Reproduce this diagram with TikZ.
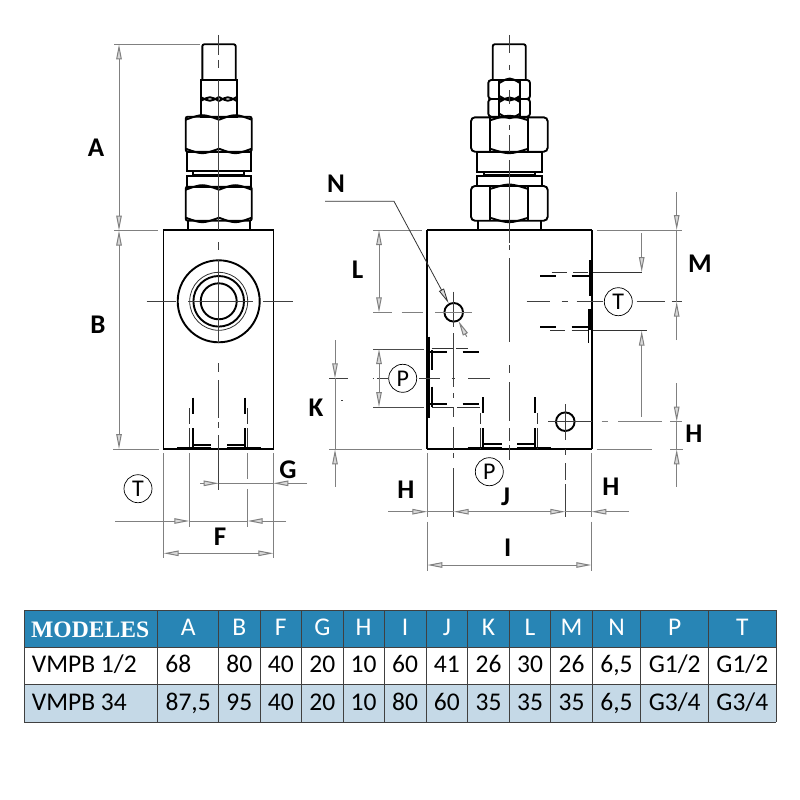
\documentclass[tikz,border=0pt]{standalone}
\usepackage{fontspec}
\setmainfont{Carlito}
\newfontfamily\headserif{Liberation Serif}
\usetikzlibrary{arrows.meta}
\definecolor{headblue}{HTML}{2885B5}
\definecolor{rowblue}{HTML}{C5D9E7}
\definecolor{dimgray}{HTML}{808080}

% two chamfer arcs of one nut face: left x, right x, top y, bottom y
\newcommand{\nutface}[4]{
    \draw[part] (#1,#3+3) .. controls ({(#1+#2)/2},#3-3) .. (#2,#3+3);
    \draw[part] (#1,#4-3) .. controls ({(#1+#2)/2},#4+3) .. (#2,#4-3);
}

\begin{document}
\begin{tikzpicture}[x=1pt, y=-1pt, >={Triangle[length=15pt,width=5.5pt,fill=gray!30]},
    every node/.style={inner sep=0pt},
    part/.style={draw=black, line width=1.9pt},
    heavy/.style={draw=black, line width=2.8pt},
    hidden/.style={draw=black!80, line width=.8pt},
    axisline/.style={draw=black!75, line width=.8pt},
    dimline/.style={draw=dimgray, line width=1pt},
    extline/.style={draw=dimgray, line width=.8pt},
    letter/.style={font=\fontsize{27}{27}\bfseries\selectfont},
    portmark/.style={circle, draw=black, line width=.7pt, minimum size=28pt, font=\fontsize{24}{24}\selectfont},
    grid line/.style={draw=black!75, line width=1pt},
    cell/.style={anchor=base, font=\fontsize{25.5}{25.5}\selectfont}]

    \useasboundingbox (0,0) rectangle (800,800);

    % Left view: adjuster
    \draw[part, rounded corners=2pt] (202.3,80) -- (202.3,44.3) -- (235.7,44.3) -- (235.7,80);
    \draw[part] (200.7,80) rectangle (236.7,116.7);
    \foreach \xa/\xb in {200.7/219,219/236.7} {
        \draw[part] (\xa,97) .. controls ({(\xa+\xb)/2},102) .. (\xb,97);
        \draw[part] (\xa,101) .. controls ({(\xa+\xb)/2},96) .. (\xb,101);
    }
    \draw[part, rounded corners=2pt] (185.7,116.7) rectangle (251.7,151.7);
    \nutface{185.7}{219}{116.7}{151.7}
    \nutface{219}{251.7}{116.7}{151.7}
    \draw[part] (186.7,151.7) rectangle (251,170.7);
    \draw[part] (193,170.7) rectangle (244,175);
    \draw[part] (186.7,175.7) rectangle (251,186.7);
    \draw[part, rounded corners=2pt] (185.7,186.7) rectangle (251.7,220.7);
    \nutface{185.7}{219}{186.7}{220.7}
    \nutface{219}{251.7}{186.7}{220.7}
    \draw[part] (187.7,220.7) -- (187.7,230.3);
    \draw[part] (250.3,220.7) -- (250.3,230.3);

    % Left view: body and port
    \draw[part] (163.5,230.3) rectangle (273.5,449);
    \draw[part] (218.7,301.3) circle[radius=41pt];
    \draw[hidden] (218.7,301.3) circle[radius=29pt];
    \draw[part] (218.7,301.3) circle[radius=25.3pt];
    \draw[part] (218.7,301.3) circle[radius=18pt];
    \foreach \ya/\yb in {35/55,60/68,80/230,242/250,260/343,363/372,380/418,422/428,435/490}
        \draw[axisline] (218.7,\ya) -- (218.7,\yb);
    \foreach \xa/\xb in {146.7/176,188/253,263/293}
        \draw[axisline] (\xa,301.3) -- (\xb,301.3);
    \foreach \xa/\xb/\xc/\xd in {192.7/189.3/177/210.7, 245/247.3/260.7/226.7} {
        \draw[part] (\xa,397.7) -- (\xa,414);
        \draw[part] (\xa,428) -- (\xa,447);
        \draw[hidden] (\xb,408) -- (\xb,424);
        \draw[hidden] (\xb,428) -- (\xb,449);
        \draw[part] (\xa,445) -- (\xd,445);
        \draw[part] (\xc,448) -- (\xd,448);
    }

    % Left view: dimensions
    \draw[extline] (114,44.3) -- (200,44.3);
    \draw[extline] (114,230.5) -- (158,230.5);
    \draw[extline] (113,449) -- (159,449);
    \draw[dimline, <->] (119,44.3) -- (119,230.5);
    \draw[dimline, <->] (119,230.5) -- (119,449);
    \draw[extline] (163.7,453) -- (163.7,558);
    \draw[extline] (273.3,453) -- (273.3,558);
    \draw[extline] (189.3,453) -- (189.3,526.7);
    \draw[extline] (247.7,453) -- (247.7,479);
    \draw[extline] (247.7,489) -- (247.7,526.7);
    \draw[dimline, ->] (200,483.3) -- (218.7,483.3);
    \draw[dimline, ->] (307,483.3) -- (273.3,483.3);
    \draw[dimline] (218.7,483.3) -- (273.3,483.3);
    \draw[dimline, ->] (115,521) -- (189.3,521);
    \draw[dimline, ->] (286,521) -- (247.7,521);
    \draw[dimline] (189.3,521) -- (247.7,521);
    \draw[dimline, <->] (163.7,553.3) -- (273.3,553.3);

    % Left view: labels
    \node[letter] (lblA) at (96,148) {A};
    \node[letter] (lblB) at (98,325) {B};
    \node[letter] (lblF) at (220,537) {F};
    \node[letter] (lblG) at (288,470) {G};
    \node[portmark] (portTa) at (138,488.7) {T};

    % Right view: adjuster
    \draw[part, rounded corners=2pt] (492.7,80) -- (492.7,44.3) -- (525.7,44.3) -- (525.7,80);
    \draw[part, rounded corners=3pt] (488.3,80) rectangle (530,99);
    \draw[part, rounded corners=3pt] (488.3,99) rectangle (530,116.7);
    \draw[part] (499.3,80) -- (499.3,116.7);
    \draw[part] (520,80) -- (520,116.7);
    \nutface{499.3}{520}{80}{99}
    \nutface{499.3}{520}{99}{116.7}
    \draw[part, rounded corners=4pt] (471,117.3) rectangle (547.7,151.7);
    \draw[part] (490,117.3) -- (490,151.7);
    \draw[part] (528.3,117.3) -- (528.3,151.7);
    \nutface{490}{528.3}{117.3}{151.7}
    \draw[part] (477.3,151.7) rectangle (541.7,171.7);
    \draw[part] (484.3,171.7) rectangle (535,175);
    \draw[part] (477.3,176) rectangle (541.7,186);
    \draw[part, rounded corners=4pt] (471,186) rectangle (547.7,220.7);
    \draw[part] (490,186) -- (490,220.7);
    \draw[part] (528.3,186) -- (528.3,220.7);
    \nutface{490}{528.3}{186}{220.7}
    \draw[part] (478.3,220.7) -- (478.3,230);
    \draw[part] (540.7,220.7) -- (540.7,230);

    % Right view: body
    \draw[part] (427,230) -- (592,230);
    \draw[part] (427,449.3) -- (592,449.3);
    \draw[part] (427,230) -- (427,449.3);
    \draw[heavy] (592,230) -- (592,449.3);
    \foreach \ya/\yb in {35/53,65/70,90/104,125/130,135/152,160/243,245/250,258/342,365/373,382/421,428/441,445/460}
        \draw[axisline] (509,\ya) -- (509,\yb);

    % Right view: T port
    \draw[heavy, line width=3pt] (590,260) -- (590,296);
    \draw[heavy, line width=4pt] (589.5,309) -- (589.5,330);
    \draw[part] (588.5,330) -- (588.5,343);
    \foreach \xa/\xb in {540/555.7,571.7/588.7} {
        \draw[part] (\xa,275.7) -- (\xb,275.7);
        \draw[part] (\xa,327.3) -- (\xb,327.3);
    }
    \foreach \xa/\xb in {551.7/567,573/588,593.3/641.7} \draw[hidden] (\xa,272) -- (\xb,272);
    \foreach \xa/\xb in {550/565,571.7/588,593.3/646.7} \draw[hidden] (\xa,330.7) -- (\xb,330.7);
    \foreach \xa/\xb in {526.7/550,561.7/568,576.7/603,636.7/665,671.7/681.7}
        \draw[axisline] (\xa,301.7) -- (\xb,301.7);
    \node[portmark] (portTb) at (618.3,301.7) {T};

    % Right view: P port on the side
    \draw[heavy] (428.5,336.7) -- (428.5,418);
    \foreach \ya/\yb/\yc in {350/370/352, 386.7/406.7/404} {
        \draw[part] (432,\ya) -- (432,\yb);
        \draw[part] (430,\yc) -- (446.7,\yc);
        \draw[part] (462.7,\yc) -- (478.7,\yc);
    }
    \draw[hidden] (431.7,348.7) -- (453.7,348.7);
    \draw[hidden] (456,348.7) -- (468,348.7);
    \draw[hidden] (431.7,407) -- (453.7,407);
    \draw[hidden] (457,407) -- (480,407);
    \draw[extline, draw=black!70] (373,349) -- (424,349);
    \draw[extline, draw=black!70] (373,407) -- (424,407);
    \foreach \xa/\xb in {329/348,372.5/373.5,377/388,419/440,451.7/455,468/490}
        \draw[axisline] (\xa,378.3) -- (\xb,378.3);
    \node[portmark] (portPa) at (402.7,378.3) {P};

    % Right view: P port on the bottom
    \foreach \xa/\xb/\xc/\xd in {483.3/480.3/467.7/501.7, 535.3/537.3/550.7/516.7} {
        \draw[part] (\xa,397.3) -- (\xa,413);
        \draw[part] (\xa,428) -- (\xa,447);
        \draw[hidden] (\xb,413) -- (\xb,424);
        \draw[hidden] (\xb,428) -- (\xb,449);
        \draw[part] (\xa,444.3) -- (\xd,444.3);
        \draw[part] (\xc,447.5) -- (\xd,447.5);
    }
    \node[portmark] (portPb) at (489.3,471.7) {P};

    % Right view: holes
    \draw[part] (453.7,312.3) circle[radius=9.3pt];
    \draw[part] (565.3,421.7) circle[radius=9.3pt];
    \foreach \ya/\yb in {291.7/327,333/348,348/387,393/398,407/417,427/449,453/458,468/517}
        \draw[axisline] (453.7,\ya) -- (453.7,\yb);
    \foreach \ya/\yb in {404/440,449/455,463/480,484/517}
        \draw[axisline] (565.3,\ya) -- (565.3,\yb);
    \foreach \xa/\xb in {373/392,401.7/423,435/471.7}
        \draw[extline] (\xa,312.3) -- (\xb,312.3);
    \draw[axisline] (548.3,421.7) -- (591.7,421.7);

    % Right view: dimensions
    \draw[extline] (373.3,230) -- (421.7,230);
    \draw[dimline, <->] (379,230) -- (379,312.3);
    \draw[dimline, <->] (379,349) -- (379,407);
    \draw[dimline, ->] (335,340) -- (335,378.3);
    \draw[dimline, ->] (335,486.7) -- (335,449.3);
    \draw[dimline] (335,378.3) -- (335,449.3);
    \draw[axisline] (341,400) -- (343,400);
    \draw[extline] (329,449.3) -- (421.7,449.3);
    \draw[extline] (596.7,230) -- (681.7,230);
    \draw[dimline, ->] (676.7,192) -- (676.7,230);
    \draw[dimline, ->] (676.7,340) -- (676.7,301.7);
    \draw[dimline] (676.7,230) -- (676.7,301.7);
    \draw[dimline, ->] (641.7,233) -- (641.7,272);
    \draw[dimline, ->] (641.7,416.7) -- (641.7,330.7);
    \draw[dimline, ->] (676.7,383) -- (676.7,421.7);
    \draw[dimline, ->] (676.7,486.7) -- (676.7,449.3);
    \draw[dimline] (676.7,421.7) -- (676.7,449.3);
    \foreach \xa/\xb in {601.7/608,618.3/661.7,670/681.7}
        \draw[extline] (\xa,421.7) -- (\xb,421.7);
    \foreach \xa/\xb in {596.7/651.7,670/682.7}
        \draw[extline] (\xa,449.3) -- (\xb,449.3);
    \foreach \ya/\yb in {453/517,521.7/570.7} {
        \draw[extline] (427.3,\ya) -- (427.3,\yb);
        \draw[extline] (591.3,\ya) -- (591.3,\yb);
    }
    \draw[dimline, ->] (388,511.7) -- (427.3,511.7);
    \draw[dimline, ->] (629,511.7) -- (591.3,511.7);
    \draw[dimline] (427.3,511.7) -- (453.7,511.7);
    \draw[dimline, <->] (453.7,511.7) -- (565.3,511.7);
    \draw[dimline] (565.3,511.7) -- (591.3,511.7);
    \draw[dimline, <->] (427.3,565) -- (591.3,565);

    % Leader to the small hole
    \coordinate (leadA) at (325,201.3);
    \coordinate (leadB) at (394,201.3);
    \coordinate (leadC) at (448.5,303);
    \coordinate (leadD) at (466.7,336.7);
    \coordinate (leadE) at (458.5,321);
    \draw[axisline, draw=black!80, ->] (leadA) -- (leadB) -- (leadC);
    \draw[dimline, ->] (leadD) -- (leadE);

    % Right view: labels
    \node[letter] (lblN) at (336,184) {N};
    \node[letter] (lblL) at (357.7,270) {L};
    \node[letter] (lblM) at (700,264) {M};
    \node[letter] (lblK) at (316,408) {K};
    \node[letter] (lblHa) at (406,490) {H};
    \node[letter] (lblJ) at (505.7,496.7) {J};
    \node[letter] (lblHb) at (611,486.7) {H};
    \node[letter] (lblI) at (507.7,548) {I};
    \node[letter] (lblHc) at (694,433.3) {H};

    % Table
    \fill[headblue] (24,610.3) rectangle (776,647.3);
    \fill[rowblue] (24,684.7) rectangle (776,722.3);
    \foreach \yl in {610.3,647.3,684.7,722.3}
        \draw[grid line] (24,\yl) -- (776,\yl);
    \foreach \xl in {24,157.7,218.7,260,301.7,343,384.3,426,467.7,509.3,550.7,592.3,640.7,708.7,776}
        \draw[grid line] (\xl,610.3) -- (\xl,722.3);

    \node[anchor=base, text=white, font=\headserif\fontsize{23.6}{23.6}\bfseries\selectfont] (tModeles) at (90.2,637.3) {MODELES};
    \node[cell, anchor=base west] (tFirst) at (31.7,672.7) {VMPB 1/2};
    \node[cell, anchor=base west] (tSecond) at (31.7,710) {VMPB 34};
    \node[cell, text=white] (hA) at (188.2,635) {A};
    \node[cell] (aA) at (178.3,672.7) {68};
    \node[cell] (bA) at (188.2,710) {87,5};
    \foreach \xa/\xb/\head/\va/\vb in {218.7/260/B/80/95, 260/301.7/F/40/40, 301.7/343/G/20/20,
        343/384.3/H/10/10, 384.3/426/I/60/80, 426/467.7/J/41/60, 467.7/509.3/K/26/35,
        509.3/550.7/L/30/35, 550.7/592.3/M/26/35, 592.3/640.7/N/{6,5}/{6,5},
        640.7/708.7/P/G1\slash 2/G3\slash 4, 708.7/776/T/G1\slash 2/G3\slash 4} {
        \pgfmathsetmacro{\xm}{(\xa+\xb)/2}
        \node[cell, text=white] (h\head) at (\xm,635) {\head};
        \node[cell] (a\head) at (\xm,672.7) {\va};
        \node[cell] (b\head) at (\xm,710) {\vb};
    }

\end{tikzpicture}
\end{document}
